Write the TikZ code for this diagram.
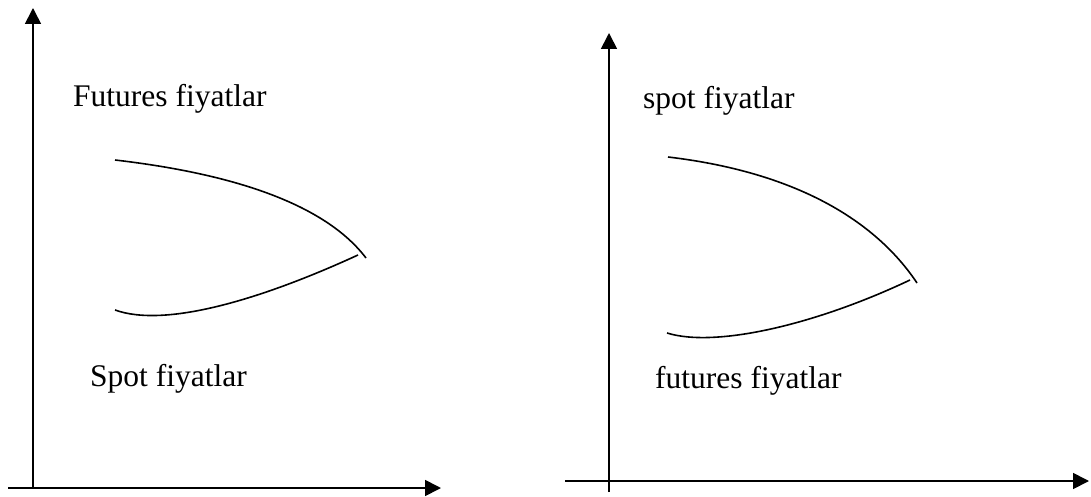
\documentclass[tikz,border=0pt]{standalone}
\usepackage{fontspec}
\setmainfont{Liberation Serif}
\usetikzlibrary{arrows.meta}
\begin{document}
\begin{tikzpicture}[x=1pt,y=-1pt,
  axis/.style={line width=1.7pt,-{Triangle[length=16pt,width=16pt]}},
  curve/.style={line width=1.6pt},
  lbl/.style={anchor=base west,inner sep=0pt,font=\fontsize{31.5}{36}\selectfont}]
\useasboundingbox (0,0) rectangle (1091,497);
% left chart
\coordinate (lo) at (33,488);
\coordinate (ly) at (33,8);
\coordinate (lx) at (441,488);
\coordinate (lxs) at (8,488);
\draw[axis] (lo) -- (ly);
\draw[axis] (lxs) -- (lx);
\coordinate (a1) at (115,160);
\coordinate (a2) at (366,258);
\coordinate (b1) at (115,310);
\coordinate (b2) at (358,255);
\draw[curve] (a1) .. controls (244,175) and (328,208) .. (a2);
\draw[curve] (b1) .. controls (165,328) and (260,300) .. (b2);
\node[lbl] (t1) at (73,107) {Futures fiyatlar};
\node[lbl] (t2) at (90,386) {Spot fiyatlar};
% right chart
\coordinate (ro) at (609,492);
\coordinate (ry) at (609,33);
\coordinate (rx) at (1089,481);
\coordinate (rxs) at (565,481);
\draw[axis] (ro) -- (ry);
\draw[axis] (rxs) -- (rx);
\coordinate (c1) at (668,157);
\coordinate (c2) at (917,283);
\coordinate (d1) at (667,333);
\coordinate (d2) at (910,280);
\draw[curve] (c1) .. controls (795,172) and (875,220) .. (c2);
\draw[curve] (d1) .. controls (715,348) and (815,325) .. (d2);
\node[lbl] (t3) at (643,109) {spot fiyatlar};
\node[lbl] (t4) at (655,388) {futures fiyatlar};
\end{tikzpicture}
\end{document}
